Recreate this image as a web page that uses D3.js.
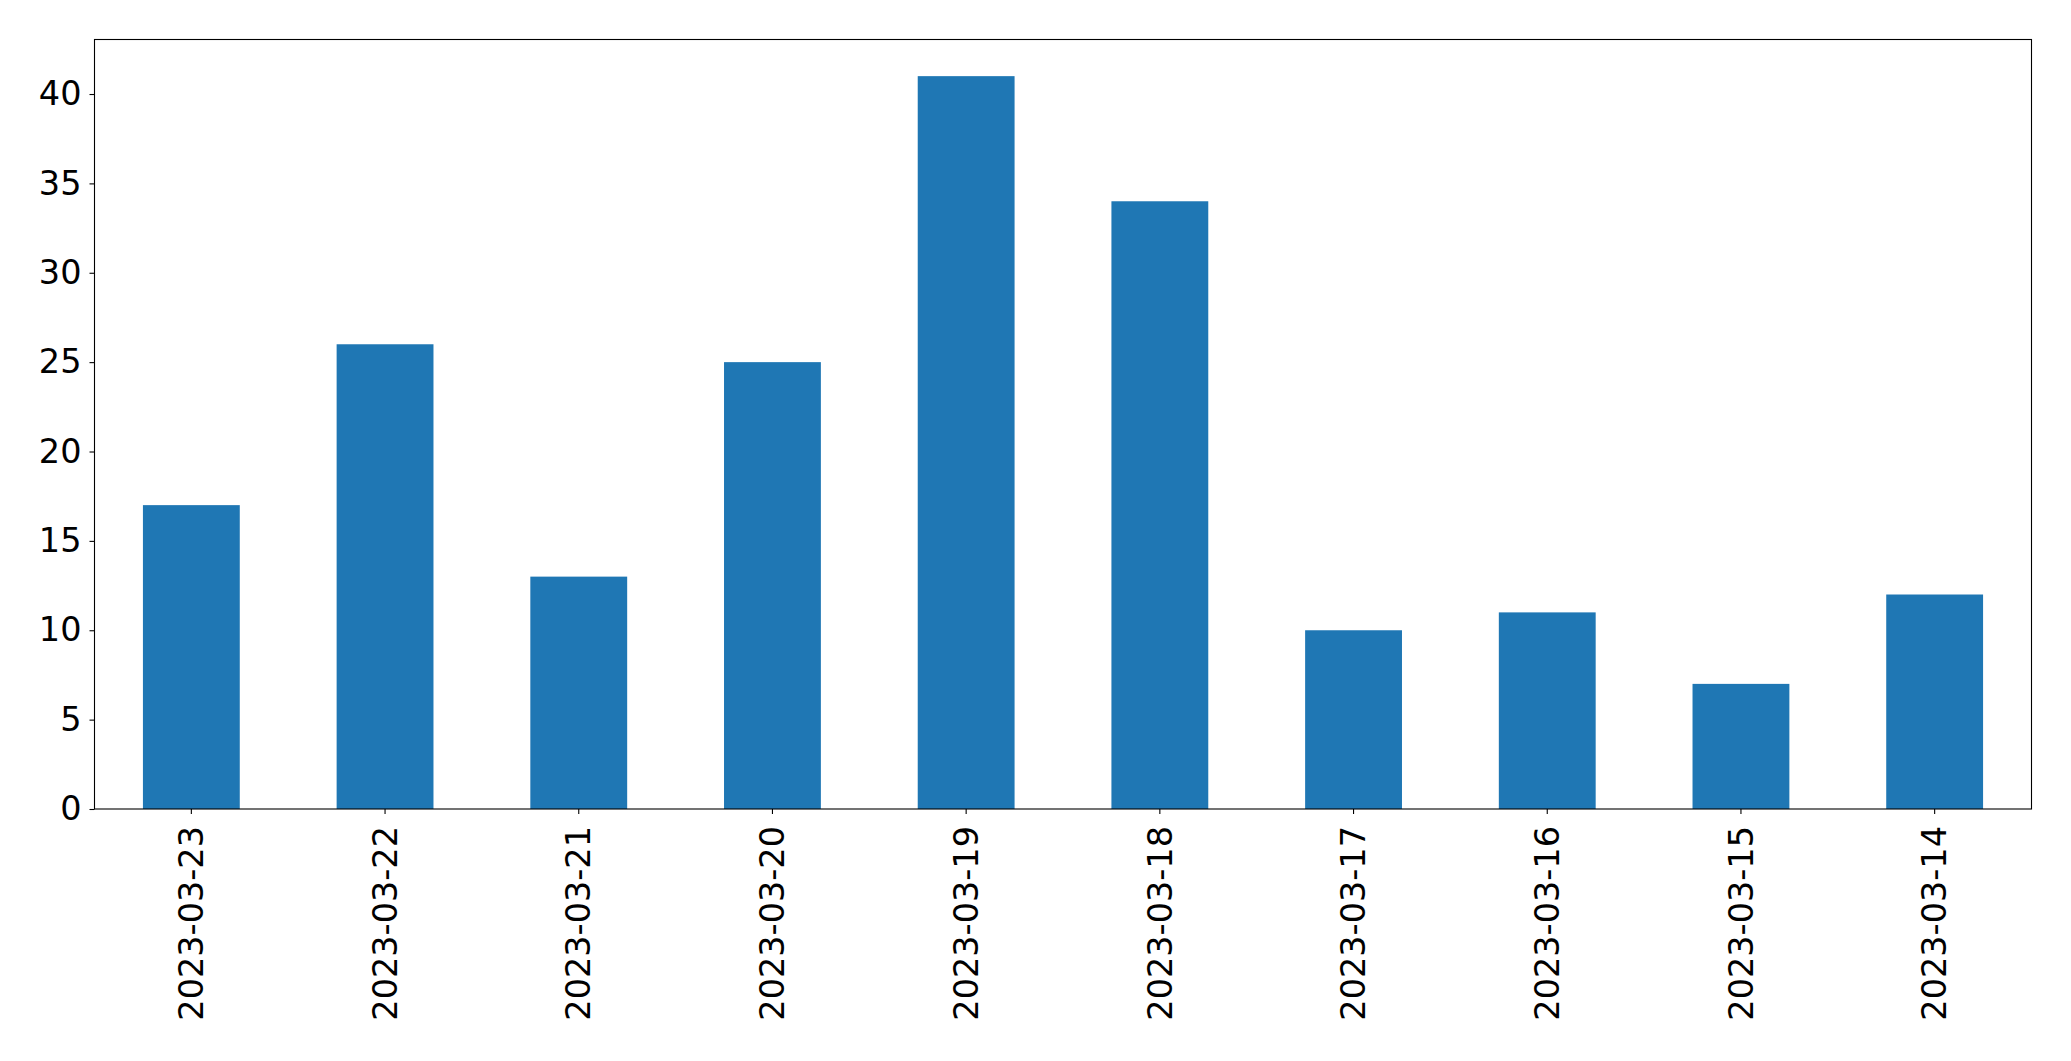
<!DOCTYPE html>
<html>
<head>
<meta charset="utf-8">
<script src="https://cdn.jsdelivr.net/npm/d3@7"></script>
<style>
  html, body { margin: 0; padding: 0; background: #fff; }
  svg { display: block; }
</style>
</head>
<body>
<script>
const categories = ["2023-03-23","2023-03-22","2023-03-21","2023-03-20","2023-03-19","2023-03-18","2023-03-17","2023-03-16","2023-03-15","2023-03-14"];
const values = [17, 26, 13, 25, 41, 34, 10, 11, 7, 12];
const yTicks = [0, 5, 10, 15, 20, 25, 30, 35, 40];

const W = 2071, H = 1061;
const margin = {left: 94.5, right: W - 2031.5, top: 39.5, bottom: H - 809};
const fontSize = 33.5;
const font = "DejaVu Sans";

const svg = d3.select("body").append("svg").attr("width", W).attr("height", H);

const x = d3.scaleBand().domain(categories)
  .range([margin.left, W - margin.right])
  .paddingInner(0.5).paddingOuter(0.25);
const yMax = d3.max(values) * 1.05;
const y = d3.scaleLinear().domain([0, yMax]).range([H - margin.bottom, margin.top]);

svg.append("g").selectAll("rect").data(values).join("rect")
  .attr("x", (d, i) => x(categories[i]))
  .attr("width", x.bandwidth())
  .attr("y", d => y(d))
  .attr("height", d => y(0) - y(d))
  .attr("fill", "#1f77b4");

const yAxis = svg.append("g").attr("transform", `translate(${margin.left},0)`)
  .call(d3.axisLeft(y).tickValues(yTicks).tickSize(5).tickPadding(8).tickFormat(d3.format("d")));
yAxis.select(".domain").remove();
yAxis.selectAll("text").attr("font-family", font).attr("font-size", fontSize).attr("fill", "#000");
yAxis.selectAll("line").attr("stroke", "#000").attr("stroke-width", 1.1);

const xAxis = svg.append("g").attr("transform", `translate(0,${H - margin.bottom})`)
  .call(d3.axisBottom(x).tickSize(5).tickPadding(0));
xAxis.select(".domain").remove();
xAxis.selectAll("line").attr("stroke", "#000").attr("stroke-width", 1.1);
xAxis.selectAll("text")
  .attr("font-family", font).attr("font-size", fontSize).attr("fill", "#000")
  .attr("transform", "translate(0,17) rotate(-90)")
  .attr("x", 0).attr("y", 0).attr("dy", "0.35em")
  .attr("text-anchor", "end");

svg.append("rect")
  .attr("x", margin.left).attr("y", margin.top)
  .attr("width", W - margin.right - margin.left)
  .attr("height", H - margin.bottom - margin.top)
  .attr("fill", "none").attr("stroke", "#000").attr("stroke-width", 1.1);
</script>
</body>
</html>
